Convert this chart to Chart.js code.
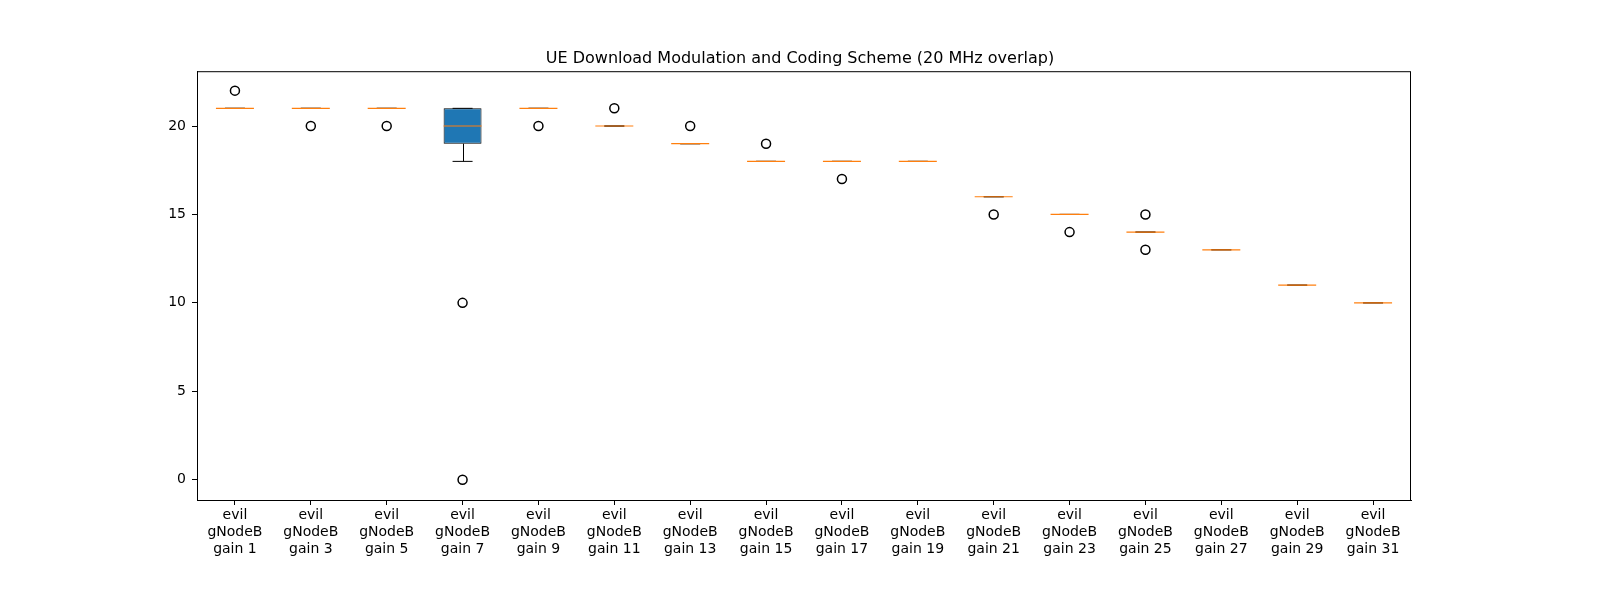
<!DOCTYPE html>
<html>
<head>
<meta charset="utf-8">
<script src="https://cdn.jsdelivr.net/npm/chart.js@4/dist/chart.umd.min.js"></script>
<style>body{margin:0;background:#fff}</style>
</head>
<body>
<canvas id="mcs" width="1600" height="600"></canvas>
<script>
// gains of the evil gNodeB
const gains = [1, 3, 5, 7, 9, 11, 13, 15, 17, 19, 21, 23, 25, 27, 29, 31];
const medians = [21, 21, 21, 20, 21, 20, 19, 18, 18, 18, 16, 15, 14, 13, 11, 10];
const q1s = [21, 21, 21, 19, 21, 20, 19, 18, 18, 18, 16, 15, 14, 13, 11, 10];
const q3s = [21, 21, 21, 21, 21, 20, 19, 18, 18, 18, 16, 15, 14, 13, 11, 10];
const whiskLo = [21, 21, 21, 18, 21, 20, 19, 18, 18, 18, 16, 15, 14, 13, 11, 10];
const whiskHi = [21, 21, 21, 21, 21, 20, 19, 18, 18, 18, 16, 15, 14, 13, 11, 10];
const outliersA = [22, 20, 20, 10, 20, 21, 20, 19, 17, null, 15, 14, 15, null, null, null];
const outliersB = [null, null, null, 0, null, null, null, null, null, null, null, null, 13, null, null, null];

const labels = gains.map(g => ['evil', 'gNodeB', 'gain ' + g]);

// whisker stems + frame
const boxExtras = {
  id: 'boxExtras',
  beforeDatasetsDraw(chart) {
    const {ctx, scales: {x, y}} = chart;
    ctx.save();
    ctx.strokeStyle = '#000';
    ctx.lineWidth = 1;
    gains.forEach((g, i) => {
      const px = Math.round(x.getPixelForValue(i)) + 0.5;
      ctx.beginPath();
      ctx.moveTo(px, y.getPixelForValue(whiskLo[i]));
      ctx.lineTo(px, y.getPixelForValue(q1s[i]));
      ctx.moveTo(px, y.getPixelForValue(q3s[i]));
      ctx.lineTo(px, y.getPixelForValue(whiskHi[i]));
      ctx.stroke();
    });
    ctx.restore();
  },
  afterDraw(chart) {
    const {ctx, chartArea: a} = chart;
    ctx.save();
    ctx.strokeStyle = '#000';
    ctx.lineWidth = 1;
    ctx.strokeRect(a.left + 0.5, a.top + 0.5, a.right - a.left - 1, a.bottom - a.top);
    ctx.restore();
  }
};

const font = {family: 'DejaVu Sans', size: 14};
const outlierStyle = {
  type: 'scatter', pointStyle: 'circle', radius: 4.5, borderColor: '#000', borderWidth: 1.5,
  backgroundColor: 'rgba(0,0,0,0)', order: 0
};

new Chart(document.getElementById('mcs'), {
  type: 'bar',
  plugins: [boxExtras],
  data: {
    labels: labels,
    datasets: [
      {
        type: 'scatter', data: medians,
        pointStyle: 'line', radius: 19, borderColor: '#ff7f0e', borderWidth: 1.2, order: 0
      },
      {type: 'scatter', data: whiskLo, pointStyle: 'line', radius: 10, borderColor: '#000', borderWidth: 1, order: 2},
      {type: 'scatter', data: whiskHi, pointStyle: 'line', radius: 10, borderColor: '#000', borderWidth: 1, order: 2},
      Object.assign({data: outliersA}, outlierStyle),
      Object.assign({data: outliersB}, outlierStyle),
      {
        type: 'bar', data: q1s.map((v, i) => [v, q3s[i]]),
        backgroundColor: '#1f77b4', borderColor: '#000', borderWidth: 1, borderSkipped: false,
        barPercentage: 0.5, categoryPercentage: 1, order: 1
      }
    ]
  },
  options: {
    responsive: false,
    devicePixelRatio: 1,
    animation: false,
    layout: {padding: 0},
    plugins: {
      legend: {display: false},
      tooltip: {enabled: false},
      title: {
        display: true, text: 'UE Download Modulation and Coding Scheme (20 MHz overlap)',
        color: '#000', font: {family: 'DejaVu Sans', size: 16, weight: 'normal'},
        padding: {top: 49, bottom: 3}
      }
    },
    scales: {
      x: {
        type: 'category', offset: true,
        grid: {display: true, offset: false, drawOnChartArea: false, tickLength: 5, color: '#000'},
        border: {color: '#000'},
        ticks: {color: '#000', font: font, maxRotation: 0, autoSkip: false, padding: 2},
        afterFit(s) { s.height = 100; }
      },
      y: {
        min: -1.15, max: 23.1,
        grid: {display: true, drawOnChartArea: false, tickLength: 5, color: '#000'},
        border: {color: '#000'},
        ticks: {stepSize: 5, includeBounds: false, color: '#000', font: font, padding: 6},
        afterFit(s) { s.width = 197; }
      },
      yr: {
        position: 'right', min: -1.15, max: 23.1,
        grid: {display: false}, border: {display: false},
        ticks: {display: false},
        afterFit(s) { s.width = 189; }
      }
    }
  }
});
</script>
</body>
</html>
